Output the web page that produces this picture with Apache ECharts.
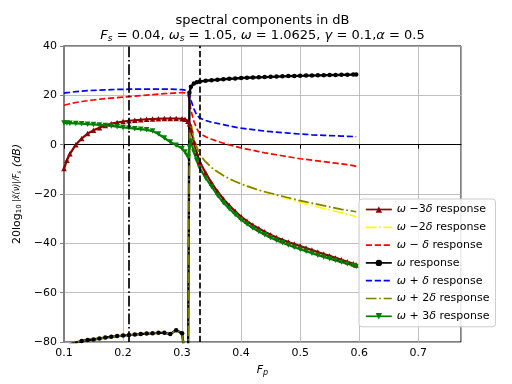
<!DOCTYPE html>
<html>
<head>
<meta charset="utf-8">
<script src="https://cdn.jsdelivr.net/npm/echarts@6/dist/echarts.min.js"></script>
<style>html,body{margin:0;padding:0;background:#fff}#c{width:512px;height:384px}</style>
</head>
<body>
<div id="c"></div>
<script>
// ---- data ----
const xs = [0.1, 0.105, 0.11, 0.12, 0.13, 0.14, 0.15, 0.16, 0.17, 0.18, 0.19, 0.2, 0.21, 0.22, 0.23, 0.24, 0.25, 0.26, 0.27, 0.28, 0.29, 0.3,
  0.305, 0.31, 0.3125, 0.315, 0.32, 0.325,
  0.33, 0.34, 0.35, 0.36, 0.37, 0.38, 0.39, 0.4, 0.41, 0.42, 0.43, 0.44, 0.45, 0.46, 0.47, 0.48, 0.49, 0.5, 0.51, 0.52, 0.53, 0.54, 0.55, 0.56, 0.57, 0.58, 0.59,
  0.595];
const wMinus3d = [-9.7, -6.3, -3.7, 0.0, 2.5, 4.5, 5.8, 6.9, 7.8, 8.5, 9.0, 9.4, 9.7, 9.9, 10.1, 10.3, 10.4, 10.5, 10.6, 10.6, 10.6, 10.5,
  10.3, 9.5, 8.5, 6.0, 1.0, -3.5,
  -7.0, -11.5, -15.5, -19.0, -22.0, -24.7, -27.0, -29.2, -31.0, -32.6, -34.0, -35.3, -36.5, -37.6, -38.6, -39.5, -40.3, -41.1, -41.9, -42.7, -43.5, -44.3, -45.1, -45.9, -46.7, -47.5, -48.3,
  -48.8];
const wMinus2d = [-84, -82, -81, -80.3, -79.6, -79.2, -79.0, -78.6, -78.2, -77.9, -77.6, -77.4, -77.2, -77.0, -76.8, -76.6, -76.5, -76.3, -76.3, -76.8, -75.2, -76.5,
  -86, -95, 6.0, 8.5, 2.5, -1.0,
  -4.0, -7.0, -9.3, -11.0, -12.5, -13.8, -14.9, -15.9, -16.8, -17.6, -18.4, -19.2, -19.9, -20.6, -21.3, -22.0, -22.7, -23.4, -24.0, -24.6, -25.2, -25.8, -26.4, -27.0, -27.6, -28.2, -28.8,
  -29.2];
const wMinus1d = [16.0, 16.3, 16.6, 17.1, 17.5, 17.8, 18.1, 18.4, 18.7, 18.9, 19.1, 19.3, 19.5, 19.7, 19.9, 20.1, 20.3, 20.5, 20.7, 20.8, 21.0, 21.1,
  21.0, 20.0, 18.0, 14.0, 9.5, 6.5,
  4.5, 3.2, 2.2, 1.4, 0.6, -0.1, -0.7, -1.3, -1.8, -2.3, -2.8, -3.3, -3.7, -4.1, -4.5, -4.9, -5.3, -5.7, -6.0, -6.3, -6.6, -6.9, -7.2, -7.5, -7.8, -8.1, -8.5,
  -8.8];
const wMain = [-84, -82, -81, -80.3, -79.6, -79.2, -79.0, -78.6, -78.2, -77.9, -77.6, -77.4, -77.2, -77.0, -76.8, -76.6, -76.5, -76.3, -76.3, -76.8, -75.2, -76.5,
  -86, -95, 21.0, 23.5, 24.8, 25.3,
  25.6, 25.9, 26.1, 26.3, 26.5, 26.7, 26.8, 27.0, 27.1, 27.2, 27.3, 27.4, 27.5, 27.6, 27.7, 27.8, 27.85, 27.9, 28.0, 28.05, 28.1, 28.15, 28.2, 28.25, 28.3, 28.35, 28.4,
  28.4];
const wPlus1d = [20.9, 21.1, 21.2, 21.5, 21.7, 21.9, 22.0, 22.1, 22.2, 22.3, 22.4, 22.4, 22.5, 22.5, 22.5, 22.5, 22.5, 22.5, 22.5, 22.5, 22.4, 22.3,
  22.1, 21.5, 20.5, 18.0, 14.5, 12.0,
  10.8, 9.8, 9.1, 8.6, 8.1, 7.6, 7.1, 6.7, 6.4, 6.1, 5.8, 5.5, 5.3, 5.1, 4.9, 4.7, 4.5, 4.3, 4.2, 4.0, 3.9, 3.8, 3.7, 3.6, 3.5, 3.4, 3.3,
  3.2];
const wPlus2d = [-84, -82, -81, -80.3, -79.6, -79.2, -79.0, -78.6, -78.2, -77.9, -77.6, -77.4, -77.2, -77.0, -76.8, -76.6, -76.5, -76.3, -76.3, -76.8, -75.2, -76.5,
  -86, -95, 6.0, 8.5, 2.5, -1.0,
  -4.0, -7.0, -9.3, -11.0, -12.5, -13.8, -14.9, -15.9, -16.8, -17.6, -18.4, -19.1, -19.7, -20.3, -20.9, -21.5, -22.1, -22.7, -23.2, -23.7, -24.2, -24.7, -25.2, -25.7, -26.2, -26.6, -27.0,
  -27.2];
const wPlus3d = [8.8, 8.75, 8.7, 8.6, 8.5, 8.3, 8.2, 8.0, 7.8, 7.6, 7.3, 7.0, 6.8, 6.5, 6.3, 6.0, 5.5, 4.3, 2.7, 1.1, -0.2, -1.6,
  -3.0, -5.0, -1.0, 1.5, -3.0, -6.5,
  -9.5, -13.5, -17.0, -20.5, -23.5, -26.0, -28.3, -30.4, -32.2, -33.8, -35.2, -36.5, -37.7, -38.8, -39.8, -40.7, -41.6, -42.4, -43.2, -44.0, -44.8, -45.5, -46.2, -46.9, -47.6, -48.3, -49.0,
  -49.4];
const vLineDashDot = 0.211;
const vLineDashed = 0.328;
const xTicks = [0.1, 0.2, 0.3, 0.4, 0.5, 0.6, 0.7];
const yTicks = [-80, -60, -40, -20, 0, 20, 40];
const seriesNames = ['ω −3δ response', 'ω −2δ response', 'ω − δ response', 'ω response', 'ω + δ response', 'ω + 2δ response', 'ω + 3δ response'];

// ---- chart ----
const pts = arr => xs.map((x, i) => [x, arr[i]]);
const LW = 1.7;
const DASH = [6.2, 2.7];
const DASHDOT = [10.7, 2.7, 1.7, 2.7];

function mk(name, arr, color, opts) {
  return Object.assign({
    name: name, type: 'line', data: pts(arr), clip: true,
    symbol: 'none', showAllSymbol: true, animation: false,
    lineStyle: { color: color, width: LW, type: 'solid' },
    itemStyle: { color: color },
    emphasis: { disabled: true }
  }, opts || {});
}

const series = [
  {
    name: 'vlines', type: 'line', data: [], animation: false, silent: true,
    markLine: {
      symbol: 'none', silent: true, animation: false, label: { show: false },
      data: [
        { xAxis: vLineDashDot, lineStyle: { color: '#000', width: LW, type: DASHDOT } },
        { xAxis: vLineDashed, lineStyle: { color: '#000', width: LW, type: DASH } }
      ]
    }
  },
  mk(seriesNames[0], wMinus3d, '#8b0000', { symbol: 'triangle', symbolSize: 5.5, lineStyle: { color: '#8b0000', width: 2.2 } }),
  mk(seriesNames[1], wMinus2d, '#ffff00', { lineStyle: { color: '#ffff00', width: LW, type: DASHDOT } }),
  mk(seriesNames[2], wMinus1d, '#ff0000', { lineStyle: { color: '#ff0000', width: LW, type: DASH } }),
  mk(seriesNames[3], wMain, '#000000', { symbol: 'circle', symbolSize: 4.5, lineStyle: { color: '#000', width: 2.4 } }),
  mk(seriesNames[4], wPlus1d, '#0000ff', { lineStyle: { color: '#0000ff', width: LW, type: DASH } }),
  mk(seriesNames[5], wPlus2d, '#808000', { lineStyle: { color: '#808000', width: LW, type: DASHDOT } }),
  mk(seriesNames[6], wPlus3d, '#008000', { symbol: 'triangle', symbolSize: 5.5, symbolRotate: 180, lineStyle: { color: '#008000', width: 2.2 } })
];

const noMarker = { color: 'rgba(0,0,0,0)', borderColor: 'rgba(0,0,0,0)', borderWidth: 0 };
const legendData = seriesNames.map((n, i) => {
  const marked = (i === 0 || i === 3 || i === 6);
  const d = { name: n, lineStyle: { width: LW } };
  if (!marked) d.itemStyle = noMarker;
  return d;
});

const FONT = 'DejaVu Sans';
const chart = echarts.init(document.getElementById('c'), null, { renderer: 'canvas' });
chart.setOption({
  animation: false,
  backgroundColor: '#fff',
  textStyle: { fontFamily: FONT },
  title: {
    text: 'spectral components in dB\n{i|F}{s|s}{t| = 0.04, }{i|ω}{s|s}{t| = 1.05, }{i|ω}{t| = 1.0625, }{i|γ}{t| = 0.1,}{i|α}{t| = 0.5}',
    left: 262.5, top: 13, textAlign: 'center', padding: 0,
    textStyle: {
      fontFamily: FONT, fontSize: 13, fontWeight: 'normal', color: '#000', lineHeight: 15,
      rich: {
        i: { fontFamily: FONT, fontSize: 13, fontStyle: 'italic', color: '#000', lineHeight: 15, verticalAlign: 'middle' },
        t: { fontFamily: FONT, fontSize: 13, color: '#000', lineHeight: 15, verticalAlign: 'middle' },
        s: { fontFamily: FONT, fontSize: 9, fontStyle: 'italic', color: '#000', lineHeight: 9, verticalAlign: 'bottom' }
      }
    }
  },
  grid: { left: 64, right: 51, top: 46, bottom: 42, show: true, borderColor: '#000', borderWidth: 1, backgroundColor: 'transparent' },
  legend: {
    data: legendData,
    orient: 'vertical', left: 359, top: 199,
    itemWidth: 26, itemHeight: 8, itemGap: 6.8,
    padding: [5, 6, 5, 6],
    backgroundColor: 'rgba(255,255,255,0.85)', borderColor: '#cccccc', borderWidth: 1, borderRadius: 3,
    formatter: n => n.replace(/ω/g, '{i|ω}').replace(/δ/g, '{i|δ}'),
    textStyle: {
      fontFamily: FONT, fontSize: 11, color: '#000',
      rich: { i: { fontFamily: FONT, fontSize: 11, fontStyle: 'italic', color: '#000' } }
    }
  },
  xAxis: {
    type: 'value', min: 0.1, max: 0.7725, interval: 0.1,
    name: '{i|F}{s|p}', nameLocation: 'middle', nameGap: 22,
    nameTextStyle: {
      rich: {
        i: { fontFamily: FONT, fontSize: 11, fontStyle: 'italic', color: '#000', lineHeight: 13, verticalAlign: 'middle' },
        s: { fontFamily: FONT, fontSize: 8, fontStyle: 'italic', color: '#000', lineHeight: 9, verticalAlign: 'bottom' }
      }
    },
    axisLine: { show: true, lineStyle: { color: '#000', width: 1 } },
    axisTick: { show: true, length: 4, lineStyle: { color: '#000' } },
    axisLabel: {
      margin: 6, fontSize: 11, color: '#000', fontFamily: FONT, showMaxLabel: false,
      formatter: v => (xTicks.some(t => Math.abs(t - v) < 1e-6) ? v.toFixed(1) : '')
    },
    splitLine: { show: true, lineStyle: { color: '#b0b0b0', width: 0.8 } }
  },
  yAxis: {
    type: 'value', min: -80, max: 40, interval: 20,
    name: '20log{s|10}{f| |x̃(ν)|/F}{fs|s} {i|(dB)}', nameLocation: 'middle', nameGap: 35, nameRotate: 90,
    nameTextStyle: {
      fontFamily: FONT, fontSize: 11, color: '#000',
      rich: {
        s: { fontFamily: FONT, fontSize: 7, color: '#000', verticalAlign: 'bottom', lineHeight: 8 },
        f: { fontFamily: FONT, fontSize: 8, fontStyle: 'italic', color: '#000', lineHeight: 12 },
        fs: { fontFamily: FONT, fontSize: 6, fontStyle: 'italic', color: '#000', verticalAlign: 'bottom', lineHeight: 8 },
        i: { fontFamily: FONT, fontSize: 11, fontStyle: 'italic', color: '#000' }
      }
    },
    axisLine: { show: true, lineStyle: { color: '#808080', width: 2 } },
    axisTick: { show: true, length: 4, lineStyle: { color: '#808080' } },
    axisLabel: {
      margin: 7, fontSize: 11, color: '#000', fontFamily: FONT,
      formatter: v => (yTicks.indexOf(v) >= 0 ? String(v).replace('-', '\u2212') : '')
    },
    splitLine: { show: true, lineStyle: { color: '#b0b0b0', width: 0.8 } }
  },
  series: series
});
</script>
</body>
</html>
